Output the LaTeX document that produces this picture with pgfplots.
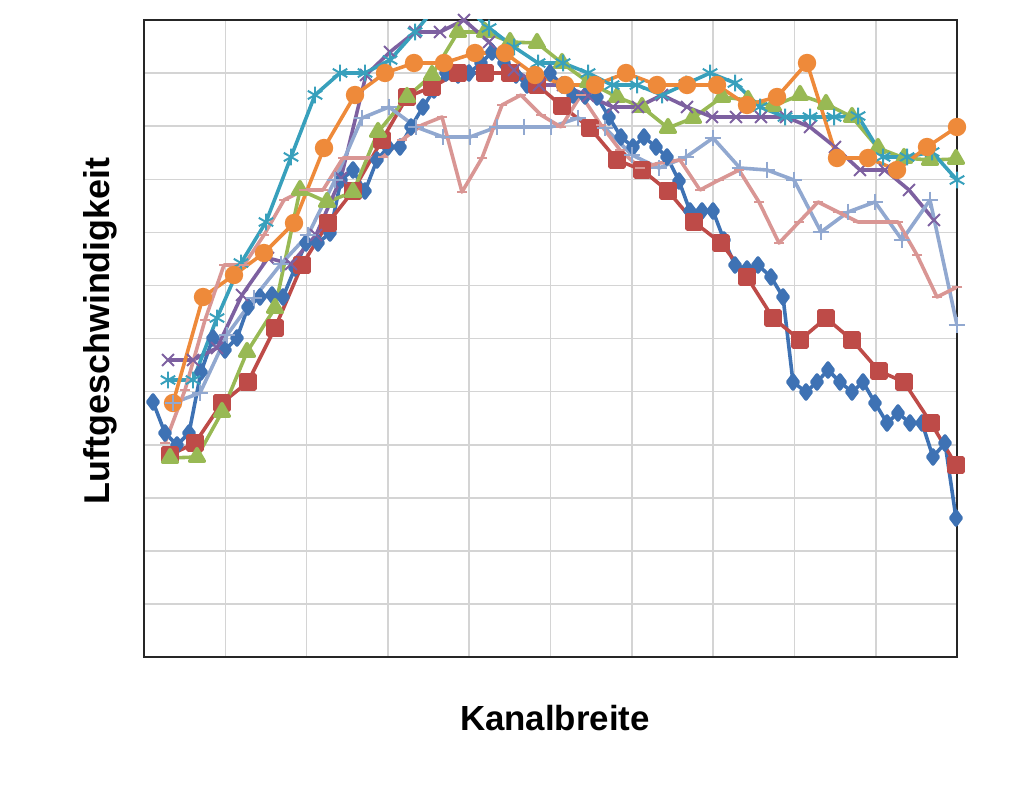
\documentclass[border=0pt]{standalone}
\usepackage{fontspec}
\setmainfont{Liberation Sans}
\usepackage{pgfplots}
\pgfplotsset{compat=1.18}

\definecolor{sblue}{RGB}{62,114,180}
\definecolor{sred}{RGB}{190,75,72}
\definecolor{sgreen}{RGB}{152,185,84}
\definecolor{spurple}{RGB}{125,96,160}
\definecolor{steal}{RGB}{56,160,188}
\definecolor{sorange}{RGB}{238,138,58}
\definecolor{slblue}{RGB}{145,168,208}
\definecolor{spink}{RGB}{217,150,148}

\pgfplotsset{
  ser/.style={color=#1, line width=1.8pt, line join=round, mark options={solid, fill=#1}},
}

\begin{document}
\begin{tikzpicture}[x=1bp,y=1bp]
\begin{axis}[
  at={(72bp,69.5bp)}, anchor=south west,
  width=406.5bp, height=318.5bp, scale only axis,
  xmin=144, xmax=957, ymin=20, ymax=657, y dir=reverse,
  xtick={144,225.3,306.6,387.9,469.2,550.5,631.8,713.1,794.4,875.7,957},
  ytick={20,73.1,126.2,179.3,232.3,285.4,338.5,391.6,444.7,497.8,550.8,603.9,657},
  xticklabels={}, yticklabels={},
  major tick length=0pt,
  grid=major,
  major grid style={draw=black!17, line width=0.8pt},
  axis line style={draw=black!85, line width=0.8pt},
  xlabel={Kanalbreite},
  ylabel={Luftgeschwindigkeit},
  label style={font=\fontsize{17.5}{21}\selectfont\bfseries},
  x label style={at={(axis description cs:0.5055,-0.0958)}, anchor=center},
  y label style={at={(axis description cs:-0.0541,0.512)}, anchor=center,
                 font=\fontsize{18}{21}\selectfont\bfseries},
]
% series 1
\addplot[ser=sblue, mark=diamond*, mark size=3.5pt] coordinates {
(153,402)(165,433)(177,445)(189,433)(201,372)(213,338)(225,350)(237,338)(248,307)(260,297)
(272,295)(283,297)(295,268)(306,243)(318,243)(330,233)(341,180)(353,170)(365,191)(377,160)
(388,147)(400,147)(411,127)(423,107)(434,90)(446,73)(458,75)(469,73)(481,63)(492,52)
(504,63)(516,75)(527,85)(539,85)(550,73)(562,85)(573,95)(585,96)(597,97)(609,117)
(621,137)(633,147)(644,137)(656,147)(667,157)(679,181)(690,211)(702,211)(713,211)(724,240)
(735,265)(747,269)(758,265)(771,277)(783,297)(793,382)(806,392)(817,382)(828,370)(840,382)
(852,392)(863,382)(875,403)(887,423)(898,413)(910,423)(922,423)(933,457)(945,443)(956,518)
};
% series 2
\addplot[ser=sred, mark=square*, mark size=3.5pt] coordinates {
(170,455)(195,443)(222,403)(248,382)(275,328)(302,265)(328,223)(353,191)(382,140)(407,97)
(432,87)(458,73)(485,73)(510,73)(537,85)(562,106)(590,128)(617,160)(642,170)(668,191)
(694,222)(721,243)(747,277)(773,318)(800,340)(826,318)(852,340)(879,371)(904,382)(931,423)
(956,465)
};
% series 3
\addplot[ser=sgreen, mark=triangle*, mark size=4.2pt] coordinates {
(170,458)(197,457)(222,412)(247,352)(275,308)(300,190)(327,202)(353,192)(378,132)(407,97)
(432,75)(458,32)(485,32)(510,42)(537,43)(562,63)(588,82)(617,97)(642,107)(668,128)
(693,118)(722,97)(748,100)(773,106)(800,95)(826,104)(852,117)(878,148)(904,158)(930,160)
(956,159)
};
% series 4
\addplot[ser=spurple, mark=x, mark size=4.2pt, mark options={line width=1pt}] coordinates {
(168,360)(193,360)(217,348)(242,295)(268,258)(291,264)(316,235)(341,178)(366,75)(390,52)
(415,32)(440,32)(464,20)(489,42)(514,70)(539,85)(563,85)(588,96)(613,107)(638,107)
(662,95)(687,107)(712,117)(736,117)(761,117)(786,117)(810,127)(835,147)(860,170)(885,170)
(909,190)(934,220)
};
% series 5
\addplot[ser=steal, mark=asterisk, mark size=4.2pt, mark options={line width=1pt}] coordinates {
(168,380)(193,380)(217,318)(241,263)(266,222)(291,157)(315,95)(340,73)(365,73)(390,60)
(415,32)(440,2)(464,5)(489,28)(514,47)(538,63)(563,63)(588,73)(612,85)(637,85)
(662,95)(686,84)(710,73)(735,83)(760,107)(785,117)(810,117)(834,117)(858,116)(883,157)
(907,157)(932,152)(957,180)
};
% series 6
\addplot[ser=sorange, mark=*, mark size=3.7pt] coordinates {
(173,403)(203,297)(234,275)(264,253)(294,223)(324,148)(355,95)(385,73)(414,63)(444,63)
(475,53)(505,53)(535,75)(565,85)(595,85)(626,73)(657,85)(687,85)(717,85)(747,105)
(777,97)(807,63)(837,158)(868,158)(897,170)(927,147)(957,127)
};
% series 7
\addplot[ser=slblue, mark=+, mark size=4.2pt, mark options={line width=1pt}] coordinates {
(173,403)(200,393)(227,335)(254,298)(281,264)(308,235)(335,180)(362,118)(389,107)(416,127)
(443,137)(470,137)(497,127)(524,127)(551,127)(578,118)(605,128)(632,155)(659,168)(686,157)
(713,138)(740,168)(767,170)(794,180)(821,232)(848,212)(875,202)(902,240)(930,200)(957,325)
};
% series 8
\addplot[ser=spink, mark=-, mark size=2.6pt, mark options={line width=1.2pt}] coordinates {
(165,443)(185,390)(205,320)(224,265)(244,265)(264,235)(284,200)(304,190)(323,190)(343,158)
(363,158)(383,157)(402,140)(422,125)(442,117)(462,192)(482,158)(502,105)(521,95)(541,115)
(561,127)(581,95)(601,125)(620,150)(640,168)(660,163)(680,160)(700,190)(719,180)(739,170)
(759,202)(779,243)(799,222)(818,202)(838,212)(858,222)(878,222)(898,222)(917,255)(937,297)
(957,287)
};
\end{axis}
\pgfresetboundingbox
\path[use as bounding box] (0,0) rectangle (512bp,398bp);
\end{tikzpicture}
\end{document}
